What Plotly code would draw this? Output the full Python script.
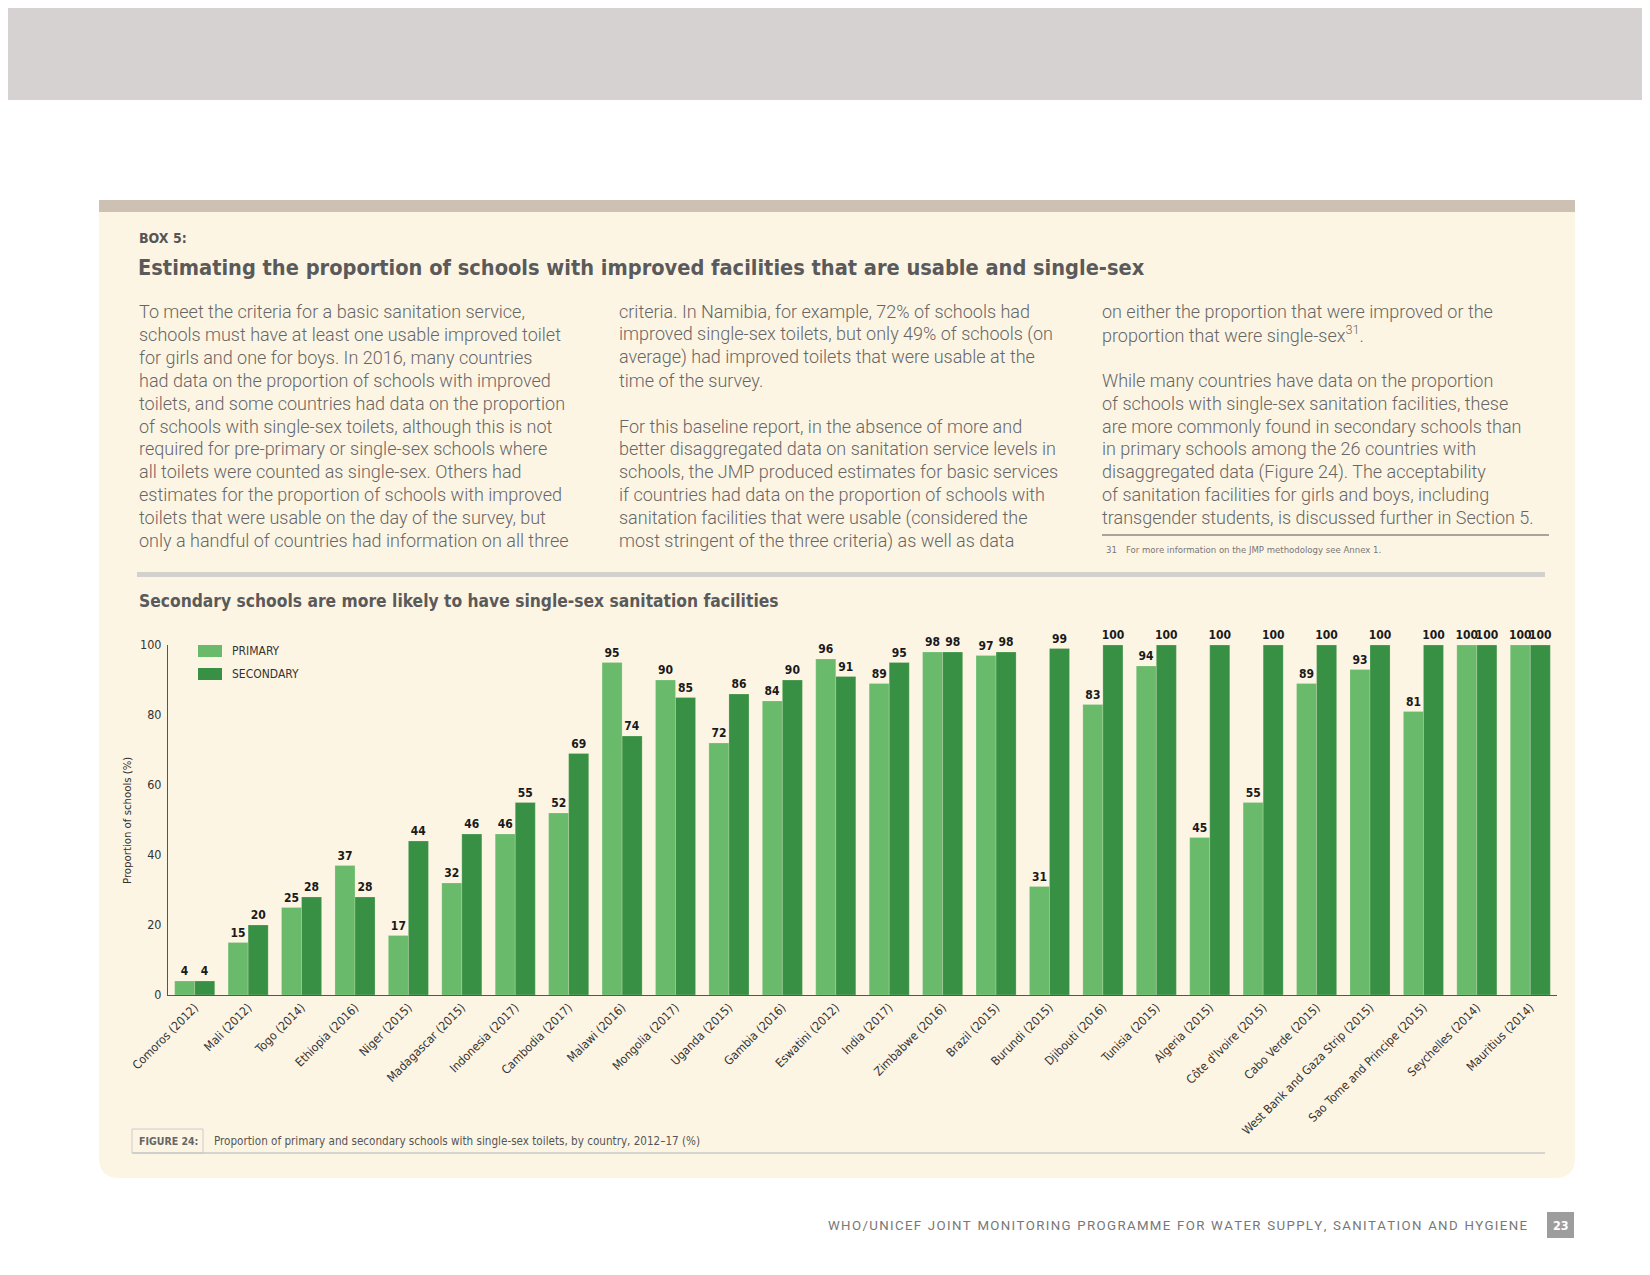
import plotly.graph_objects as go

W, H = 1650, 1275
OFF = 8  # page body margin in which the figure is placed

countries = ["Comoros (2012)", "Mali (2012)", "Togo (2014)", "Ethiopia (2016)", "Niger (2015)",
             "Madagascar (2015)", "Indonesia (2017)", "Cambodia (2017)", "Malawi (2016)",
             "Mongolia (2017)", "Uganda (2015)", "Gambia (2016)", "Eswatini (2012)", "India (2017)",
             "Zimbabwe (2016)", "Brazil (2015)", "Burundi (2015)", "Djibouti (2016)", "Tunisia (2015)",
             "Algeria (2015)", "Côte d'Ivoire (2015)", "Cabo Verde (2015)",
             "West Bank and Gaza Strip (2015)", "Sao Tome and Principe (2015)",
             "Seychelles (2014)", "Mauritius (2014)"]
primary = [4, 15, 25, 37, 17, 32, 46, 52, 95, 90, 72, 84, 96, 89, 98, 97, 31, 83, 94, 45, 55, 89, 93, 81, 100, 100]
secondary = [4, 20, 28, 28, 44, 46, 55, 69, 74, 85, 86, 90, 91, 95, 98, 98, 99, 100, 100, 100, 100, 100, 100, 100, 100, 100]
y_ticks = [0, 20, 40, 60, 80, 100]
series_names = ["PRIMARY", "SECONDARY"]

col1 = ["To meet the criteria for a basic sanitation service,",
        "schools must have at least one usable improved toilet",
        "for girls and one for boys. In 2016, many countries",
        "had data on the proportion of schools with improved",
        "toilets, and some countries had data on the proportion",
        "of schools with single-sex toilets, although this is not",
        "required for pre-primary or single-sex schools where",
        "all toilets were counted as single-sex. Others had",
        "estimates for the proportion of schools with improved",
        "toilets that were usable on the day of the survey, but",
        "only a handful of countries had information on all three"]
col2 = ["criteria. In Namibia, for example, 72% of schools had",
        "improved single-sex toilets, but only 49% of schools (on",
        "average) had improved toilets that were usable at the",
        "time of the survey.",
        "",
        "For this baseline report, in the absence of more and",
        "better disaggregated data on sanitation service levels in",
        "schools, the JMP produced estimates for basic services",
        "if countries had data on the proportion of schools with",
        "sanitation facilities that were usable (considered the",
        "most stringent of the three criteria) as well as data"]
col3 = ["on either the proportion that were improved or the",
        "proportion that were single-sex<sup>31</sup>.",
        "",
        "While many countries have data on the proportion",
        "of schools with single-sex sanitation facilities, these",
        "are more commonly found in secondary schools than",
        "in primary schools among the 26 countries with",
        "disaggregated data (Figure 24). The acceptability",
        "of sanitation facilities for girls and boys, including",
        "transgender students, is discussed further in Section 5."]

footer = "WHO/UNICEF JOINT MONITORING PROGRAMME FOR WATER SUPPLY, SANITATION AND HYGIENE"

COND = "DejaVu Sans Condensed, Liberation Sans Narrow, sans-serif"
BODY = "Roboto, Liberation Sans, sans-serif"
C_PRI = "#69ba6b"
C_SEC = "#389044"
CREAM = "#fdf5e4"


def px(x):
    return (x - OFF) / W


def py(y):
    return 1 - (y - OFF) / H


fig = go.Figure()
for name, vals, col in [(series_names[0], primary, C_PRI), (series_names[1], secondary, C_SEC)]:
    fig.add_trace(go.Bar(x=countries, y=vals, name=name, marker_color=col,
                         marker_line=dict(color="rgba(253,245,228,0.35)", width=0.6),
                         text=vals, textposition="outside", constraintext="none", cliponaxis=False,
                         textfont=dict(family=COND, size=12, color="#1a1a1a", weight=700)))

shapes = []
shapes.append(dict(type="rect", xref="paper", yref="paper", x0=0, x1=1, y0=py(100), y1=1,
                   fillcolor="#d6d2d1", line_width=0, layer="below"))
bx0, bx1, by0, by1, r = 99, 1575, 212, 1178, 20
path = (f"M {px(bx0)},{py(by0)} L {px(bx1)},{py(by0)} L {px(bx1)},{py(by1 - r)} "
        f"Q {px(bx1)},{py(by1)} {px(bx1 - r)},{py(by1)} L {px(bx0 + r)},{py(by1)} "
        f"Q {px(bx0)},{py(by1)} {px(bx0)},{py(by1 - r)} Z")
shapes.append(dict(type="path", xref="paper", yref="paper", path=path, fillcolor=CREAM,
                   line_width=0, layer="below"))
shapes.append(dict(type="rect", xref="paper", yref="paper", x0=px(bx0), x1=px(bx1), y0=py(212), y1=py(200),
                   fillcolor="#cdc1b4", line_width=0, layer="below"))
shapes.append(dict(type="line", xref="paper", yref="paper", x0=px(1102), x1=px(1549), y0=py(535), y1=py(535),
                   line=dict(color="#555555", width=1.2)))
shapes.append(dict(type="rect", xref="paper", yref="paper", x0=px(137), x1=px(1545), y0=py(577), y1=py(572),
                   fillcolor="#d3d1ce", line_width=0))
shapes.append(dict(type="rect", xref="paper", yref="paper", x0=px(198), x1=px(222), y0=py(657), y1=py(645),
                   fillcolor=C_PRI, line_width=0))
shapes.append(dict(type="rect", xref="paper", yref="paper", x0=px(198), x1=px(222), y0=py(680), y1=py(668),
                   fillcolor=C_SEC, line_width=0))
shapes.append(dict(type="rect", xref="paper", yref="paper", x0=px(132), x1=px(203), y0=py(1153), y1=py(1129),
                   fillcolor="rgba(0,0,0,0)", line=dict(color="#cccccc", width=1)))
shapes.append(dict(type="line", xref="paper", yref="paper", x0=px(132), x1=px(1545), y0=py(1153), y1=py(1153),
                   line=dict(color="#c8c8c8", width=1.5)))
shapes.append(dict(type="rect", xref="paper", yref="paper", x0=px(1547), x1=px(1574), y0=py(1238), y1=py(1212),
                   fillcolor="#9d9d9d", line_width=0))

ann = []


def text(x, y, s, size, color, family, weight=400, xanchor="left", angle=0):
    ann.append(dict(x=px(x), y=py(y), xref="paper", yref="paper", text=s, showarrow=False,
                    xanchor=xanchor, yanchor="middle", textangle=angle,
                    font=dict(size=size, color=color, family=family, weight=weight)))


text(137, 238, "BOX 5:", 14, "#555555", COND, 700)
text(136, 268, "Estimating the proportion of schools with improved facilities that are usable and single-sex",
     21.6, "#5a5a5a", COND, 700)

LH = 22.9
for cx, lines in [(137, col1), (617, col2), (1100, col3)]:
    for i, s in enumerate(lines):
        if s:
            text(cx, 311.5 + i * LH, s, 18, "#666666", BODY, 300)

text(1104, 549, "31", 9.5, "#777777", COND)
text(1124, 549, "For more information on the JMP methodology see Annex 1.", 9.5, "#777777", COND)

text(137, 601, "Secondary schools are more likely to have single-sex sanitation facilities", 17.3, "#5a5a5a", COND, 700)

text(230, 651, series_names[0], 12, "#333333", COND)
text(230, 674, series_names[1], 12, "#333333", COND)

text(127, 821, "Proportion of schools (%)", 11.3, "#333333", COND, xanchor="center", angle=-90)

text(137, 1141, "FIGURE 24:", 10.5, "#666666", COND, 700)
text(212, 1141, "Proportion of primary and secondary schools with single-sex toilets, by country, 2012–17 (%)",
     11.6, "#555555", COND)

spaced = "\u200a".join(list(footer)).replace("\u200a \u200a", "\u2002")
text(1530, 1225, spaced, 13.25, "#777777", BODY, xanchor="right")
text(1560.5, 1225, "23", 12.5, "#ffffff", COND, 700, xanchor="center")

fig.update_layout(
    width=W, height=H, margin=dict(l=0, r=0, t=0, b=0, autoexpand=False),
    paper_bgcolor="white", plot_bgcolor="rgba(0,0,0,0)",
    barmode="group", bargap=0.25, bargroupgap=0,
    showlegend=False, shapes=shapes, annotations=ann,
    xaxis=dict(domain=[px(168), px(1557)], showline=True, linecolor="#555555", linewidth=1,
               tickangle=-45, tickfont=dict(family=COND, size=12, color="#333333"),
               ticks="", showgrid=False, fixedrange=True, automargin=False),
    yaxis=dict(domain=[py(995), py(645)], range=[0, 100], tickvals=y_ticks,
               showline=True, linecolor="#555555", linewidth=1, ticks="",
               tickfont=dict(family=COND, size=12.5, color="#333333"), ticklabelstandoff=3,
               showgrid=False, zeroline=False, fixedrange=True, automargin=False),
)

fig.write_html("out.html")
